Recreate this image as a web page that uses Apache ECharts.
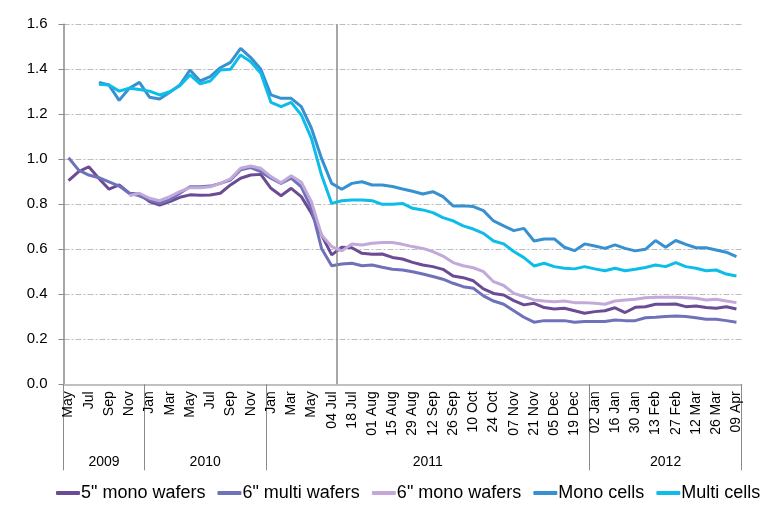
<!DOCTYPE html>
<html>
<head>
<meta charset="utf-8">
<script src="https://cdn.jsdelivr.net/npm/echarts@6/dist/echarts.min.js"></script>
<style>
html,body{margin:0;padding:0;background:#fff;}
#c{width:783px;height:512px;}
</style>
</head>
<body>
<div id="c"></div>
<script>
// ---- categories (grouped by year) ----
const years = ['2009', '2010', '2011', '2012'];
const cat2009 = ['May','Jun','Jul','Aug','Sep','Oct','Nov','Dec'];
const cat2010 = ['Jan','Feb','Mar','Apr','May','Jun','Jul','Aug','Sep','Oct','Nov','Dec'];
const cat2011 = ['Jan','Feb','Mar','Apr','May','Jun',
  '04 Jul','11 Jul','18 Jul','25 Jul','01 Aug','08 Aug','15 Aug','22 Aug','29 Aug',
  '05 Sep','12 Sep','19 Sep','26 Sep','03 Oct','10 Oct','17 Oct','24 Oct','31 Oct',
  '07 Nov','14 Nov','21 Nov','28 Nov','05 Dec','12 Dec','19 Dec','26 Dec'];
const cat2012 = ['02 Jan','09 Jan','16 Jan','23 Jan','30 Jan','06 Feb','13 Feb','20 Feb',
  '27 Feb','05 Mar','12 Mar','19 Mar','26 Mar','02 Apr','09 Apr'];
const weeklyStartLabel = '04 Jul';

// ---- series values ----
const mono5 = [0.905,0.945,0.967,0.915,0.867,0.886,0.849,0.845,0.812,0.797,0.812,0.831,0.842,0.840,0.841,0.849,0.886,0.916,0.930,0.933,0.871,0.838,0.871,0.834,0.760,0.664,0.575,0.609,0.607,0.582,0.578,0.579,0.564,0.557,0.542,0.530,0.523,0.511,0.481,0.474,0.460,0.424,0.404,0.397,0.372,0.353,0.360,0.341,0.335,0.338,0.327,0.316,0.323,0.327,0.340,0.319,0.342,0.345,0.356,0.356,0.357,0.345,0.348,0.341,0.338,0.345,0.335];
const multi6 = [1.007,0.952,0.930,0.918,0.900,0.881,0.849,0.838,0.819,0.804,0.820,0.849,0.878,0.878,0.881,0.893,0.908,0.953,0.963,0.945,0.916,0.893,0.916,0.878,0.782,0.604,0.527,0.535,0.538,0.527,0.530,0.520,0.511,0.508,0.500,0.490,0.479,0.467,0.449,0.434,0.427,0.393,0.370,0.356,0.327,0.298,0.276,0.283,0.283,0.283,0.276,0.279,0.279,0.279,0.286,0.283,0.283,0.296,0.298,0.301,0.304,0.301,0.296,0.289,0.289,0.283,0.276];
const mono6 = [null,null,null,null,null,null,0.838,0.849,0.827,0.816,0.834,0.856,0.874,0.874,0.878,0.893,0.913,0.960,0.970,0.960,0.923,0.896,0.927,0.898,0.812,0.664,0.612,0.593,0.624,0.619,0.627,0.630,0.630,0.622,0.612,0.604,0.590,0.570,0.541,0.527,0.518,0.501,0.456,0.439,0.404,0.390,0.375,0.370,0.367,0.370,0.363,0.363,0.360,0.356,0.370,0.375,0.378,0.385,0.387,0.387,0.387,0.385,0.382,0.375,0.378,0.370,0.363];
const monoCells = [null,null,null,1.342,1.330,1.262,1.316,1.342,1.276,1.268,1.298,1.330,1.397,1.348,1.367,1.407,1.431,1.493,1.452,1.400,1.286,1.271,1.271,1.234,1.138,1.004,0.893,0.867,0.893,0.900,0.886,0.886,0.879,0.868,0.858,0.846,0.856,0.834,0.793,0.793,0.790,0.772,0.726,0.704,0.683,0.693,0.637,0.646,0.646,0.609,0.594,0.624,0.615,0.604,0.620,0.604,0.593,0.600,0.639,0.609,0.639,0.622,0.607,0.607,0.597,0.587,0.567];
const multiCells = [null,null,null,1.333,1.330,1.303,1.316,1.310,1.303,1.286,1.300,1.327,1.375,1.335,1.348,1.397,1.400,1.464,1.434,1.382,1.253,1.234,1.253,1.197,1.093,0.930,0.804,0.816,0.819,0.819,0.816,0.800,0.800,0.804,0.782,0.775,0.763,0.741,0.726,0.704,0.690,0.671,0.637,0.624,0.590,0.563,0.526,0.538,0.523,0.516,0.513,0.523,0.513,0.505,0.516,0.505,0.511,0.519,0.530,0.523,0.541,0.523,0.516,0.505,0.508,0.490,0.481];

const seriesNames = ['5" mono wafers', '6" multi wafers', '6" mono wafers', 'Mono cells', 'Multi cells'];
const seriesColors = ['#6b4c94', '#6f72b9', '#c2a9d9', '#3791d1', '#0dbde9'];
const yTicks = [0, 0.2, 0.4, 0.6, 0.8, 1.0, 1.2, 1.4, 1.6];

// ---- derived ----
const yearCats = [cat2009, cat2010, cat2011, cat2012];
const categories = [].concat(...yearCats);
const boundaries = [0];
yearCats.forEach(c => boundaries.push(boundaries[boundaries.length - 1] + c.length));
const yearCenters = years.map((y, i) => (boundaries[i] + boundaries[i + 1]) / 2);
const total = categories.length;
const markerPos = cat2009.length + cat2010.length + cat2011.indexOf(weeklyStartLabel) + 1;
const values = [mono5, multi6, mono6, monoCells, multiCells];

const FONT = "'Liberation Sans', Arial, sans-serif";
const chart = echarts.init(document.getElementById('c'), null, {renderer: 'canvas'});

const series = values.map((d, i) => ({
  name: seriesNames[i],
  type: 'line',
  data: d,
  xAxisIndex: 0,
  yAxisIndex: 0,
  symbol: 'none',
  showSymbol: false,
  lineStyle: {width: 3, color: seriesColors[i]},
  itemStyle: {color: seriesColors[i]},
  connectNulls: false,
  z: 3 + i
}));
series.push({
  type: 'line',
  xAxisIndex: 1,
  yAxisIndex: 0,
  data: [],
  silent: true,
  markLine: {
    symbol: 'none',
    silent: true,
    label: {show: false},
    lineStyle: {color: '#8a8a8a', type: 'solid', width: 1.5},
    data: [{xAxis: markerPos}]
  }
});

chart.setOption({
  animation: false,
  textStyle: {fontFamily: FONT},
  grid: {left: 63.5, right: 41.5, top: 24.3, bottom: 127.7, containLabel: false},
  legend: {
    bottom: 5,
    left: 51,
    icon: 'roundRect',
    itemWidth: 24,
    itemHeight: 4,
    itemGap: 12,
    data: seriesNames,
    textStyle: {fontSize: 18, color: '#000', fontFamily: FONT, padding: [0, 0, 0, -4]}
  },
  xAxis: [{
    type: 'category',
    data: categories,
    position: 'bottom',
    boundaryGap: true,
    axisLine: {show: true, lineStyle: {color: '#c0c0c0', width: 2}},
    axisTick: {show: false},
    axisLabel: {interval: 1, rotate: 90, fontSize: 14, color: '#000', margin: 7, fontFamily: FONT},
    splitLine: {show: false}
  }, {
    type: 'value',
    min: 0,
    max: total,
    position: 'bottom',
    axisLine: {show: false},
    axisTick: {show: true, customValues: boundaries, length: 86, lineStyle: {color: '#8a8a8a', width: 1}},
    axisLabel: {
      show: true,
      customValues: yearCenters,
      margin: 71,
      fontSize: 14,
      color: '#000',
      fontFamily: FONT,
      formatter: v => {
        const idx = yearCenters.findIndex(c => Math.abs(c - v) < 1e-6);
        return idx >= 0 ? years[idx] : '';
      }
    },
    splitLine: {show: false}
  }],
  yAxis: [{
    type: 'value',
    min: yTicks[0],
    max: yTicks[yTicks.length - 1],
    interval: 0.2,
    axisLine: {show: true, lineStyle: {color: '#8a8a8a', width: 1.5}},
    axisTick: {show: true, length: 5, lineStyle: {color: '#8a8a8a'}},
    axisLabel: {fontSize: 15, color: '#000', margin: 16, fontFamily: FONT, formatter: v => v.toFixed(1)},
    splitLine: {show: true, lineStyle: {color: '#bdbdbd', type: [6, 2, 2, 2], width: 1}}
  }],
  series: series
});
</script>
</body>
</html>
